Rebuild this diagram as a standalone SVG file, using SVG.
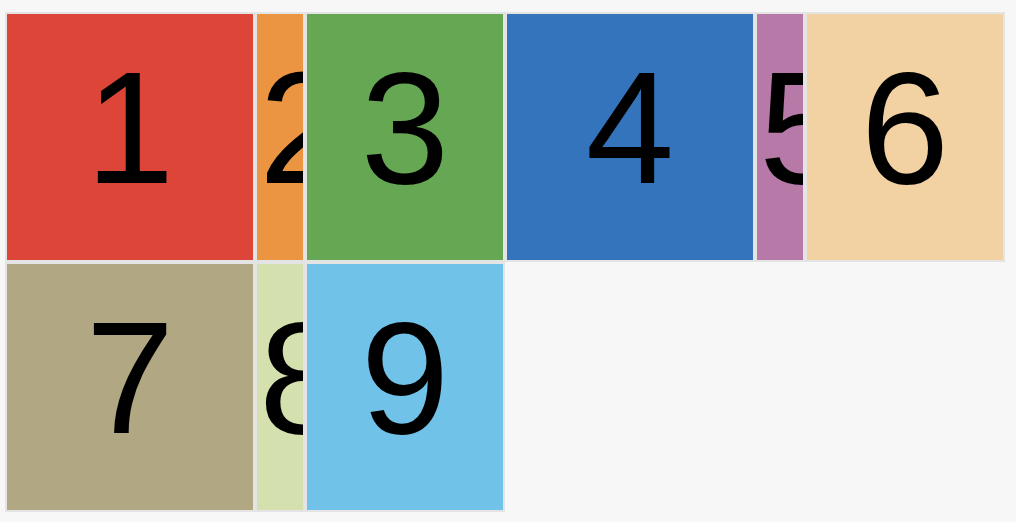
<svg xmlns="http://www.w3.org/2000/svg" width="1016" height="522" viewBox="0 0 1016 522">
<style>
.cell{stroke:#e4e4e4;stroke-width:2}
.t{font-family:"Liberation Sans",Arial,sans-serif;font-size:159px;fill:#000}
</style>
<defs>
<clipPath id="c2"><rect x="257" y="14" width="46" height="246"/></clipPath>
<clipPath id="c5"><rect x="757" y="14" width="46" height="246"/></clipPath>
<clipPath id="c8"><rect x="257" y="264" width="46" height="246"/></clipPath>
</defs>
<rect width="1016" height="522" fill="#f7f7f7"/>
<g id="n1"><rect class="cell" x="6" y="13" width="248" height="248" fill="#dc4537"/><text class="t" x="130" y="183" text-anchor="middle">1</text></g>
<g id="n2"><rect class="cell" x="256" y="13" width="48" height="248" fill="#eb9442"/><text class="t" x="259" y="183" clip-path="url(#c2)">2</text></g>
<g id="n3"><rect class="cell" x="306" y="13" width="198" height="248" fill="#65a752"/><text class="t" x="405" y="183" text-anchor="middle">3</text></g>
<g id="n4"><rect class="cell" x="506" y="13" width="248" height="248" fill="#3474bc"/><text class="t" x="630" y="183" text-anchor="middle">4</text></g>
<g id="n5"><rect class="cell" x="756" y="13" width="48" height="248" fill="#b77aa8"/><text class="t" x="759" y="183" clip-path="url(#c5)">5</text></g>
<g id="n6"><rect class="cell" x="806" y="13" width="198" height="248" fill="#f2d2a2"/><text class="t" x="905" y="183" text-anchor="middle">6</text></g>
<g id="n7"><rect class="cell" x="6" y="263" width="248" height="248" fill="#b2a783"/><text class="t" x="130" y="433" text-anchor="middle">7</text></g>
<g id="n8"><rect class="cell" x="256" y="263" width="48" height="248" fill="#d4e1ae"/><text class="t" x="259" y="433" clip-path="url(#c8)">8</text></g>
<g id="n9"><rect class="cell" x="306" y="263" width="198" height="248" fill="#70c2e8"/><text class="t" x="405" y="433" text-anchor="middle">9</text></g>
<g id="connectors"/>
</svg>
